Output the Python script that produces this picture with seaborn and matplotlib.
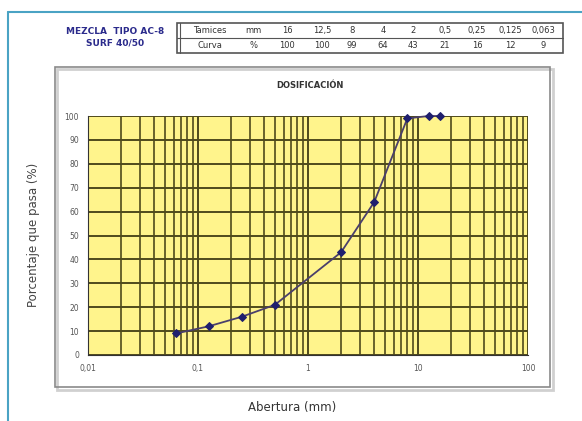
import numpy as np
import pandas as pd
import matplotlib.pyplot as plt
import seaborn as sns
from matplotlib.lines import Line2D
from matplotlib.patches import Rectangle
from matplotlib.ticker import FixedLocator, LogLocator, NullFormatter

sieve_labels = ["16", "12,5", "8", "4", "2", "0,5", "0,25", "0,125", "0,063"]
sieve_mm = [16, 12.5, 8, 4, 2, 0.5, 0.25, 0.125, 0.063]
passing = [100, 100, 99, 64, 43, 21, 16, 12, 9]
x_ticks = [0.01, 0.1, 1, 10, 100]
x_ticklabels = ["0,01", "0,1", "1", "10", "100"]
y_ticks = list(range(0, 101, 10))

df = pd.DataFrame({"mm": sieve_mm, "pasa": passing})

sns.set_style("white")
plt.rcParams["font.family"] = ["DejaVu Sans"]

fig = plt.figure(figsize=(5.82, 4.21), dpi=100)
W, H = 582, 421

def fx(px):
    return px / W

def fy(py):
    return 1 - py / H

# outer teal frame
fig.add_artist(Line2D([fx(8), fx(8)], [fy(12), 0], color="#4aa3c4", lw=1.5))
fig.add_artist(Line2D([fx(8), fx(582)], [fy(12), fy(12)], color="#4aa3c4", lw=1.5))

# chart box with shadow
fig.add_artist(Rectangle((fx(57), fy(390)), fx(496), fy(69) - fy(390),
                         transform=fig.transFigure, fill=False, ec="#d0d0d0", lw=2))
fig.add_artist(Rectangle((fx(55), fy(387)), fx(495), fy(67) - fy(387),
                         transform=fig.transFigure, fill=False, ec="#8a8a8a", lw=1.2))

# header text
fig.text(fx(115), fy(31), "MEZCLA  TIPO AC-8", color="#2b2b8c", fontsize=6.5,
         fontweight="bold", ha="center", va="center")
fig.text(fx(115), fy(43), "SURF 40/50", color="#2b2b8c", fontsize=6.5,
         fontweight="bold", ha="center", va="center")

# table
fig.add_artist(Rectangle((fx(177), fy(53)), fx(386), fy(23) - fy(53),
                         transform=fig.transFigure, fill=False, ec="#555555", lw=1.2))
fig.add_artist(Line2D([fx(177), fx(563)], [fy(38), fy(38)], color="#555555", lw=0.8))
fig.add_artist(Line2D([fx(180), fx(180)], [fy(53), fy(23)], color="#555555", lw=0.8))
row1, row2 = 30.5, 45.5
fig.text(fx(210), fy(row1), "Tamices", fontsize=6, color="#333333", ha="center", va="center")
fig.text(fx(210), fy(row2), "Curva", fontsize=6, color="#333333", ha="center", va="center")
fig.text(fx(253), fy(row1), "mm", fontsize=6, color="#333333", ha="center", va="center")
fig.text(fx(253), fy(row2), "%", fontsize=6, color="#333333", ha="center", va="center")
col_x = [287, 322, 352, 383, 413, 445, 477, 510, 543]
for cx, lab, val in zip(col_x, sieve_labels, passing):
    fig.text(fx(cx), fy(row1), lab, fontsize=6, color="#333333", ha="center", va="center")
    fig.text(fx(cx), fy(row2), str(val), fontsize=6, color="#333333", ha="center", va="center")

# plot axes
ax = fig.add_axes([fx(88), fy(355), fx(528) - fx(88), fy(116) - fy(355)])
ax.set_facecolor("#fff48c")
sns.lineplot(data=df, x="mm", y="pasa", ax=ax, color="#4a3f6b", lw=1.3,
             marker="D", markersize=4.5, markerfacecolor="#1f1f6e",
             markeredgecolor="#1f1f6e", sort=True, zorder=5, clip_on=False)
ax.set_xscale("log")
ax.set_xlim(0.01, 100)
ax.set_ylim(0, 100)
ax.xaxis.set_major_locator(FixedLocator(x_ticks))
ax.set_xticklabels(x_ticklabels)
ax.xaxis.set_minor_locator(LogLocator(base=10, subs=np.arange(2, 10)))
ax.xaxis.set_minor_formatter(NullFormatter())
ax.set_yticks(y_ticks)
ax.grid(True, which="major", color="#4f4a1c", lw=1.4)
ax.grid(True, which="minor", axis="x", color="#4f4a1c", lw=1.2)
ax.set_axisbelow(True)
for s in ax.spines.values():
    s.set_visible(False)
ax.spines["left"].set_visible(True)
ax.spines["bottom"].set_visible(True)
ax.spines["left"].set_color("#333333")
ax.spines["bottom"].set_color("#333333")
ax.tick_params(axis="both", which="major", labelsize=5.5, labelcolor="#555555",
               length=3, color="#333333", width=0.8)
ax.tick_params(axis="x", which="minor", length=0)
ax.set_xlabel("")
ax.set_ylabel("")

fig.text(fx(310), fy(86), "DOSIFICACIÓN", fontsize=6, fontweight="bold",
         color="#333333", ha="center", va="center")
fig.text(fx(34), fy(235), "Porcentaje que pasa (%)", fontsize=8.5, color="#444444",
         rotation=90, ha="center", va="center")
fig.text(fx(292), fy(407), "Abertura (mm)", fontsize=8.5, color="#333333",
         ha="center", va="center")

fig.savefig("out.png", dpi=100)
